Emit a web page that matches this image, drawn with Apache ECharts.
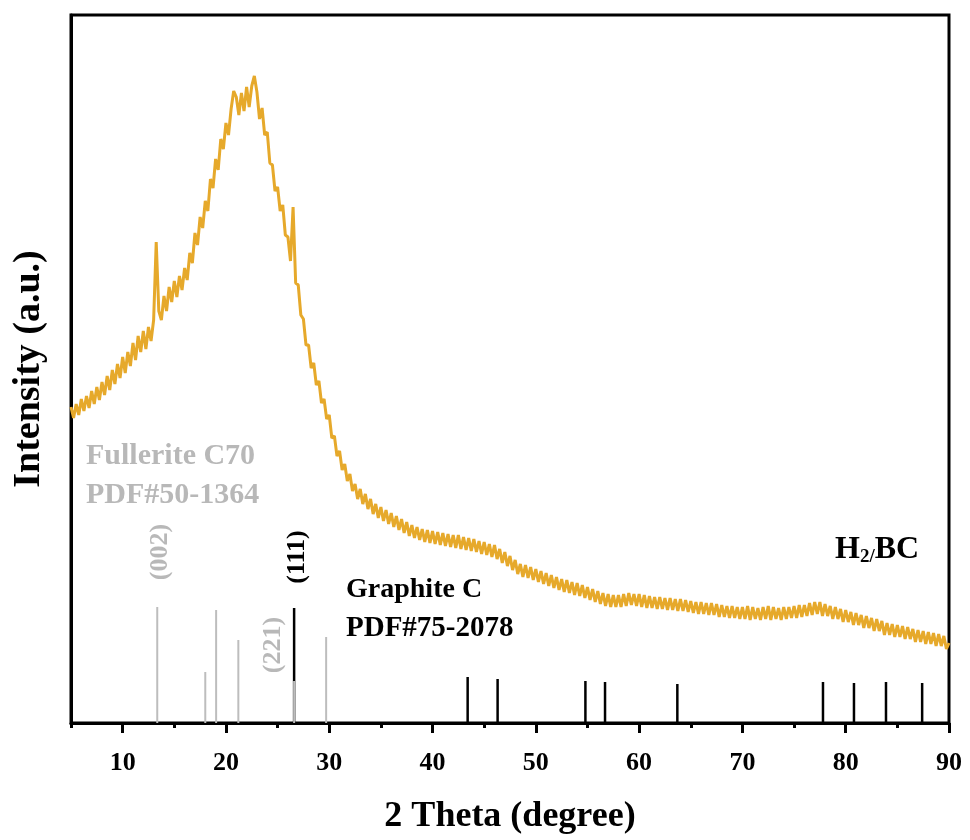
<!DOCTYPE html>
<html>
<head>
<meta charset="utf-8">
<script src="https://cdn.jsdelivr.net/npm/echarts@6/dist/echarts.min.js"></script>
<style>
  html, body { margin: 0; padding: 0; background: #fff; }
  #chart { width: 970px; height: 840px; }
</style>
</head>
<body>
<div id="chart"></div>
<script>
// ---- data ----
// XRD scan: 2θ from 5° to 90°, step 0.25°; one row per degree (x.00, x.25, x.50, x.75)
const scanStart = 5;
const scanStep = 0.25;
const intensityRows = [
  [316, 305, 319, 308], // 5
  [324, 312, 327, 315], // 6
  [332, 319, 336, 323], // 7
  [341, 328, 347, 333], // 8
  [353, 339, 359, 345], // 9
  [366, 350, 371, 357], // 10
  [380, 363, 387, 371], // 11
  [392, 374, 396, 382], // 12
  [403, 481, 412, 403], // 13
  [427, 412, 436, 421], // 14
  [442, 426, 447, 433], // 15
  [455, 443, 470, 460], // 16
  [490, 478, 506, 495], // 17
  [522, 512, 544, 535], // 18
  [564, 553, 584, 574], // 19
  [600, 588, 614, 632], // 20
  [626, 608, 630, 612], // 21
  [636, 616, 637, 647], // 22
  [631, 604, 615, 588], // 23
  [591, 560, 558, 532], // 24
  [536, 512, 518, 488], // 25
  [486, 462, 516, 440], // 26
  [438, 408, 404, 378], // 27
  [378, 355, 360, 338], // 28
  [342, 320, 324, 304], // 29
  [308, 285, 287, 267], // 30
  [272, 253, 259, 242], // 31
  [249, 232, 239, 224], // 32
  [234, 219, 229, 214], // 33
  [224, 209, 219, 205], // 34
  [216, 202, 213, 199], // 35
  [210, 196, 207, 193], // 36
  [204, 190, 201, 187], // 37
  [198, 185, 196, 183], // 38
  [194, 181, 193, 180], // 39
  [192, 179, 191, 178], // 40
  [190, 177, 189, 176], // 41
  [188, 175, 188, 174], // 42
  [186, 173, 185, 172], // 43
  [184, 171, 182, 169], // 44
  [181, 168, 179, 166], // 45
  [178, 164, 174, 160], // 46
  [171, 157, 167, 153], // 47
  [163, 149, 159, 146], // 48
  [158, 145, 156, 143], // 49
  [154, 141, 152, 139], // 50
  [150, 137, 148, 135], // 51
  [146, 133, 144, 131], // 52
  [143, 130, 141, 128], // 53
  [140, 127, 138, 125], // 54
  [136, 123, 134, 121], // 55
  [132, 119, 130, 117], // 56
  [129, 116, 128, 116], // 57
  [128, 116, 129, 117], // 58
  [130, 118, 129, 117], // 59
  [129, 116, 128, 115], // 60
  [127, 115, 126, 114], // 61
  [126, 114, 125, 113], // 62
  [125, 113, 124, 112], // 63
  [124, 112, 123, 111], // 64
  [122, 110, 121, 109], // 65
  [121, 109, 120, 108], // 66
  [120, 108, 119, 106], // 67
  [118, 106, 117, 105], // 68
  [117, 105, 116, 104], // 69
  [116, 104, 117, 103], // 70
  [116, 104, 115, 103], // 71
  [116, 104, 117, 103], // 72
  [116, 104, 115, 103], // 73
  [116, 104, 116, 105], // 74
  [117, 105, 118, 106], // 75
  [118, 107, 120, 108], // 76
  [121, 109, 121, 107], // 77
  [119, 107, 117, 104], // 78
  [116, 104, 114, 101], // 79
  [113, 101, 111, 98],  // 80
  [110, 98, 108, 95],   // 81
  [107, 95, 105, 92],   // 82
  [104, 92, 102, 88],   // 83
  [100, 88, 99, 86],    // 84
  [98, 86, 97, 84],     // 85
  [96, 84, 94, 81],     // 86
  [93, 81, 92, 79],     // 87
  [91, 79, 90, 77],     // 88
  [89, 77, 87, 74],     // 89
  [80]                  // 90
];

// Reference stick patterns
const fulleritePos = [13.35, 18.0, 19.05, 21.2, 26.6, 29.7];
const fulleriteInt = [116, 51, 113, 83, 42, 86];
const graphitePos = [26.6, 43.4, 46.3, 54.8, 56.7, 63.7, 77.8, 80.8, 83.9, 87.4];
const graphiteInt = [115, 46, 44, 42, 41, 39, 41, 40, 41, 40];

// Axis ticks
const majorTicks = [10, 20, 30, 40, 50, 60, 70, 80, 90];
const minorTicks = [5, 15, 25, 35, 45, 55, 65, 75, 85];

// ---- build ----
const scan = [];
intensityRows.forEach((row, r) => {
  row.forEach((v, c) => {
    scan.push([scanStart + (r * 4 + c) * scanStep, v]);
  });
});
const fullerite = fulleritePos.map((x, i) => [x, fulleriteInt[i]]);
const graphite = graphitePos.map((x, i) => [x, graphiteInt[i]]);

const SERIF = '"Liberation Serif", "DejaVu Serif", serif';

function stickRenderer(color, width) {
  return function (params, api) {
    const p0 = api.coord([api.value(0), 0]);
    const p1 = api.coord([api.value(0), api.value(1)]);
    return {
      type: 'line',
      shape: { x1: p0[0], y1: p0[1], x2: p1[0], y2: p1[1] },
      style: { stroke: color, lineWidth: width }
    };
  };
}

const chart = echarts.init(document.getElementById('chart'), null, { renderer: 'canvas' });

const option = {
  backgroundColor: '#fff',
  animation: false,
  grid: {
    left: 71, right: 21, top: 15, bottom: 117,
    show: true, borderColor: '#000', borderWidth: 3, backgroundColor: 'transparent'
  },
  xAxis: [
    {
      type: 'value', min: 5, max: 90,
      name: '2 Theta (degree)', nameLocation: 'middle', nameGap: 76,
      nameTextStyle: { fontFamily: SERIF, fontWeight: 'bold', fontSize: 36, color: '#000' },
      axisLine: { show: true, lineStyle: { color: '#000', width: 3 } },
      axisTick: { show: true, inside: false, length: 10, lineStyle: { color: '#000', width: 3 }, customValues: majorTicks },
      axisLabel: { show: true, customValues: majorTicks, margin: 27, fontFamily: SERIF, fontWeight: 'bold', fontSize: 26, color: '#000' },
      splitLine: { show: false }
    },
    {
      type: 'value', min: 5, max: 90, position: 'bottom',
      axisLine: { show: false },
      axisTick: { show: true, inside: false, length: 5, lineStyle: { color: '#000', width: 3 }, customValues: minorTicks },
      axisLabel: { show: false },
      splitLine: { show: false }
    }
  ],
  yAxis: {
    type: 'value', min: 0, max: 708,
    name: 'Intensity (a.u.)', nameLocation: 'middle', nameGap: 23,
    nameTextStyle: { fontFamily: SERIF, fontWeight: 'bold', fontSize: 38, color: '#000' },
    axisLine: { show: true, lineStyle: { color: '#000', width: 3 } },
    axisTick: { show: false },
    axisLabel: { show: false },
    splitLine: { show: false }
  },
  series: [
    {
      type: 'custom', name: 'Graphite C', xAxisIndex: 0,
      renderItem: stickRenderer('#000', 2.5),
      data: graphite, z: 2
    },
    {
      type: 'custom', name: 'Fullerite C70', xAxisIndex: 0,
      renderItem: stickRenderer('#bdbdbd', 2),
      data: fullerite, z: 3
    },
    {
      type: 'line', name: 'H2/BC', xAxisIndex: 0,
      data: scan, showSymbol: false, symbol: 'none',
      lineStyle: { color: '#E6A92B', width: 3 },
      z: 4
    }
  ],
  graphic: [
    { type: 'text', x: 86, y: 456, style: { text: 'Fullerite C70', font: 'bold 30px ' + SERIF, fill: '#b8b8b8', align: 'left', verticalAlign: 'middle' } },
    { type: 'text', x: 86, y: 495, style: { text: 'PDF#50-1364', font: 'bold 30px ' + SERIF, fill: '#b8b8b8', align: 'left', verticalAlign: 'middle' } },
    { type: 'text', x: 346, y: 590, style: { text: 'Graphite C', font: 'bold 28px ' + SERIF, fill: '#000', align: 'left', verticalAlign: 'middle' } },
    { type: 'text', x: 346, y: 629, style: { text: 'PDF#75-2078', font: 'bold 29px ' + SERIF, fill: '#000', align: 'left', verticalAlign: 'middle' } },
    { type: 'text', x: 160, y: 552, rotation: Math.PI / 2, style: { text: '(002)', font: 'bold 26px ' + SERIF, fill: '#b8b8b8', align: 'center', verticalAlign: 'middle' } },
    { type: 'text', x: 273, y: 645, rotation: Math.PI / 2, style: { text: '(221)', font: 'bold 26px ' + SERIF, fill: '#b8b8b8', align: 'center', verticalAlign: 'middle' } },
    { type: 'text', x: 297, y: 557, rotation: Math.PI / 2, style: { text: '(111)', font: 'bold 26px ' + SERIF, fill: '#000', align: 'center', verticalAlign: 'middle' } },
    {
      type: 'text', x: 835, y: 550,
      style: {
        text: '{a|H}{b|2/}{a|BC}',
        align: 'left', verticalAlign: 'middle',
        rich: {
          a: { font: 'bold 32px ' + SERIF, fill: '#000', lineHeight: 36 },
          b: { font: 'bold 19px ' + SERIF, fill: '#000', lineHeight: 36, padding: [15, 0, 0, 0] }
        }
      }
    }
  ]
};
chart.setOption(option);
</script>
</body>
</html>
